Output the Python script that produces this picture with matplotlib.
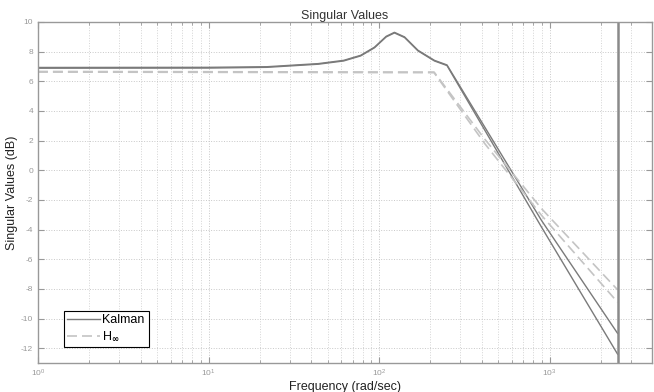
import numpy as np
import matplotlib
matplotlib.use("Agg")
import matplotlib.pyplot as plt

plt.rcParams['font.family'] = ['Liberation Sans', 'DejaVu Sans']
plt.rcParams['axes.unicode_minus'] = False

# Kalman singular values (rad/sec, dB)
kal_w = [1, 10, 22, 44, 62, 78, 94, 110, 123, 141, 169, 211, 250, 897, 2500]
kal_sv1 = [6.93, 6.94, 6.98, 7.19, 7.41, 7.75, 8.3, 9.03, 9.3, 8.99, 8.09, 7.41, 7.1, -3.4, -11.0]
kal_sv2 = [6.88, 6.89, 6.94, 7.15, 7.37, 7.71, 8.26, 8.99, 9.26, 8.95, 8.05, 7.37, 7.06, -3.85, -12.4]

# H-infinity singular values
hinf_w = [1, 210, 416, 897, 2500]
hinf_sv1 = [6.66, 6.62, 2.1, -2.6, -8.06]
hinf_sv2 = [6.62, 6.58, 1.8, -3.05, -8.9]

w_end = 2500

fig = plt.figure(figsize=(6.54, 3.92), dpi=100)
ax = fig.add_axes([0.058, 0.074, 0.939, 0.87])

kal_color = '#7a7a7a'
hinf_color = '#c4c4c4'

ax.semilogx(kal_w, kal_sv1, color=kal_color, lw=1.0, label='Kalman')
ax.semilogx(kal_w, kal_sv2, color=kal_color, lw=1.0)
ax.semilogx(hinf_w, hinf_sv1, color=hinf_color, lw=1.2, ls=(0, (6, 3)), label=r'H$_\mathbf{\infty}$')
ax.semilogx(hinf_w, hinf_sv2, color=hinf_color, lw=1.2, ls=(0, (6, 3)))
ax.axvline(w_end, color='#8a8a8a', lw=1.8)

ax.set_xlim(1, 10 ** 3.6)
ax.set_ylim(-13, 10)
ax.set_yticks(np.arange(-12, 11, 2))

ax.grid(True, which='major', ls=':', color='#c8c8c8', lw=0.7)
ax.grid(True, which='minor', axis='x', ls=':', color='#d4d4d4', lw=0.7)

ax.tick_params(which='both', direction='in', top=True, right=True,
               colors='#999999', labelsize=6, labelcolor='#999999')
ax.tick_params(which='major', length=4)
ax.tick_params(which='minor', length=2)
for s in ax.spines.values():
    s.set_color('#999999')
    s.set_linewidth(1.0)

ax.set_title('Singular Values', fontsize=9, color='#333333', pad=2)
ax.set_xlabel('Frequency (rad/sec)', fontsize=9, color='#222222', labelpad=1)
ax.set_ylabel('Singular Values (dB)', fontsize=9, color='#222222', labelpad=2)

leg = ax.legend(loc='lower left', bbox_to_anchor=(0.042, 0.047), fontsize=9,
                fancybox=False, framealpha=1, edgecolor='black',
                handlelength=2.6, handletextpad=0.2, borderpad=0.3,
                labelspacing=0.3, borderaxespad=0)
leg.get_frame().set_linewidth(0.8)

fig.savefig('out.png', dpi=100)
